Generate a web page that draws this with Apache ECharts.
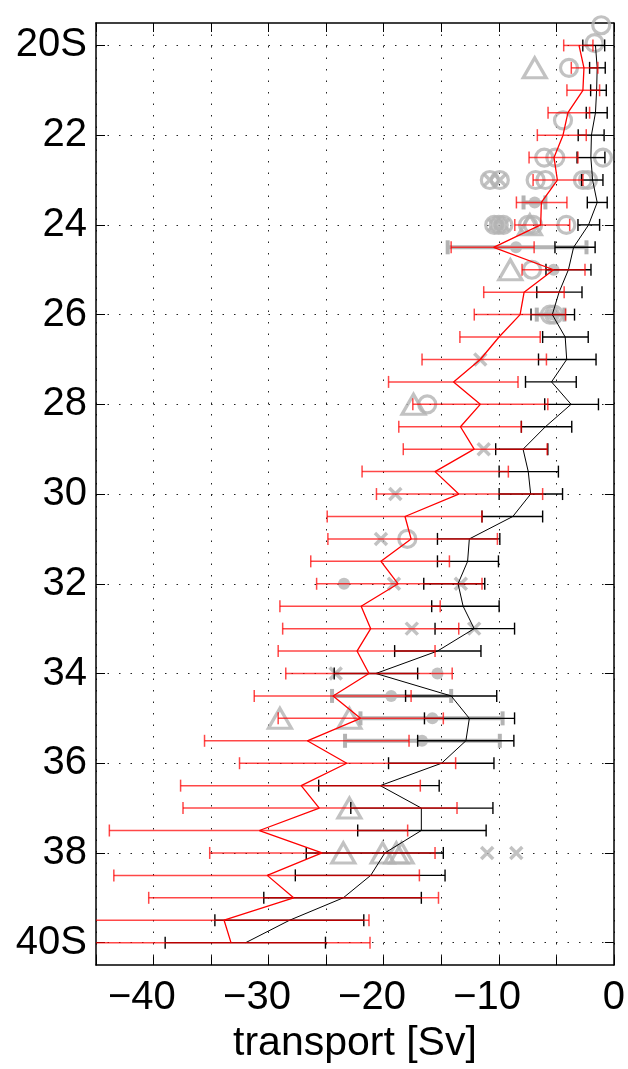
<!DOCTYPE html>
<html>
<head>
<meta charset="utf-8">
<script src="https://cdn.jsdelivr.net/npm/echarts@6/dist/echarts.min.js"></script>
<style>
html,body{margin:0;padding:0;background:#fff;}
#chart{width:628px;height:1069px;}
</style>
</head>
<body>
<div id="chart"></div>
<script>
// ---------- data ----------
const latitudes = [20,20.5,21,21.5,22,22.5,23,23.5,24,24.5,25,25.5,26,26.5,27,27.5,28,28.5,29,29.5,30,30.5,31,31.5,32,32.5,33,33.5,34,34.5,35,35.5,36,36.5,37,37.5,38,38.5,39,39.5,40];

const blackMean = [-1.6,-1.45,-1.5,-1.6,-1.95,-2.0,-1.85,-1.45,-2.2,-3.5,-3.95,-4.76,-5.35,-4.23,-4.1,-5.42,-3.72,-5.95,-7.89,-7.44,-7.23,-8.78,-12.56,-12.71,-13.54,-13.1,-12.14,-15.33,-20.68,-14.14,-12.56,-12.86,-14.97,-20.3,-16.73,-16.73,-19.9,-21.13,-23.51,-28.18,-31.99];
const blackLow  = [-2.7,-2.11,-2.02,-2.4,-3.1,-3.2,-2.8,-2.31,-3.12,-5.12,-5.9,-6.7,-7.2,-6.19,-6.55,-7.68,-6.01,-8.04,-10.27,-9.97,-9.97,-11.46,-15.33,-15.33,-16.52,-15.83,-15.54,-19.05,-24.3,-18.1,-16.46,-17.05,-19.58,-25.65,-22.86,-22.26,-26.73,-27.68,-30.42,-34.67,-38.99];
const blackHigh = [-0.8,-0.75,-0.66,-0.58,-0.85,-0.78,-0.95,-0.58,-1.24,-1.63,-1.99,-2.77,-3.42,-2.23,-1.55,-3.27,-1.34,-3.66,-5.74,-4.82,-4.46,-6.19,-9.91,-10.03,-11.22,-9.97,-8.63,-11.55,-17.05,-10.18,-8.63,-8.69,-10.42,-15.18,-10.51,-11.1,-14.82,-14.67,-16.73,-21.73,-25.06];

const redMean = [-3.03,-2.6,-2.69,-3.99,-4.42,-5.2,-4.91,-6.3,-6.36,-10.45,-5.24,-7.8,-8.15,-9.98,-11.61,-13.93,-11.61,-13.33,-12.14,-15.54,-13.48,-18.15,-17.62,-20.24,-18.75,-21.96,-21.13,-22.32,-21.28,-24.4,-22.02,-26.64,-23.21,-27.17,-25.6,-30.8,-25.36,-30.12,-27.83,-33.87,-33.27];
const redLow  = [-4.36,-3.7,-4.08,-5.72,-6.65,-7.37,-7.02,-8.47,-8.61,-14.14,-7.98,-11.31,-12.13,-13.38,-16.67,-19.58,-17.47,-18.69,-18.3,-21.88,-20.63,-24.91,-24.85,-26.34,-25.83,-29.02,-28.78,-29.17,-28.51,-31.25,-29.17,-35.57,-32.53,-37.65,-37.44,-43.84,-35.12,-43.45,-40.42,-46.5,-45.35];
const redHigh = [-1.82,-1.39,-1.24,-2.11,-2.4,-3.12,-2.69,-4.08,-3.84,-6.93,-2.51,-4.32,-4.2,-6.4,-5.86,-8.33,-5.74,-8.04,-5.8,-9.17,-6.19,-11.46,-10.12,-14.29,-11.46,-15.09,-13.48,-15.54,-14.05,-17.62,-14.82,-17.8,-13.75,-16.82,-13.63,-17.92,-15.54,-16.9,-15.24,-21.28,-21.19];

// grey observational estimates: [transport, latitude]
const obsCircles = [[-1.1,19.55],[-1.68,19.95],[-3.9,20.5],[-4.42,21.67],[-6.05,22.5],[-5.09,22.5],[-0.95,22.5],[-6.8,23],[-5.95,23],[-2.69,23],[-2.25,23],[-10.78,23],[-9.91,23],[-10.4,24],[-10.0,24],[-9.6,24],[-7.46,24],[-7.02,24],[-4.13,24],[-7.12,25],[-5.55,26],[-5.2,26],[-16.22,28],[-17.95,31]];
const obsCrosses = [[-10.78,23],[-9.91,23],[-10.4,24],[-10.0,24],[-9.6,24],[-11.61,27],[-11.31,29],[-18.99,30],[-20.24,31],[-19.11,32],[-13.3,32],[-17.56,33],[-12.14,33],[-24.17,34],[-11.01,38],[-8.48,38]];
const obsDots = [[-6.88,23.5],[-8.5,24.5],[-5.24,25],[-5.35,26],[-23.45,32],[-15.33,34],[-19.35,34.5],[-15.77,35],[-16.67,35.5]];
const obsTriangles = [[-6.88,20.5],[-7.3,24],[-9.0,25],[-17.41,28],[-29.02,35],[-22.98,35],[-22.98,37],[-23.51,38],[-20.09,38],[-18.9,38],[-18.45,38]];
// grey error bars: [low, high, latitude]
const obsBars = [[-7.85,-5.95,23.5],[-14.44,-2.38,24.5],[-6.7,-4.3,26],[-24.49,-14.14,34.5],[-22.02,-9.67,35],[-23.36,-9.91,35.5]];

const latTickValues = [20,22,24,26,28,30,32,34,36,38,40];
const xTickLabels = {'-40':'−40','-30':'−30','-20':'−20','-10':'−10','0':'0'};

// ---------- chart ----------
const GREY = '#b3b3b3';
const FONT = 'Liberation Sans, Arial, Helvetica, sans-serif';

function errorBarItem(color, width, cap) {
  return function (params, api) {
    const lat = api.value(2);
    const a = api.coord([api.value(0), lat]);
    const b = api.coord([api.value(1), lat]);
    const h = cap / 2;
    const st = { stroke: color, lineWidth: width };
    return {
      type: 'group',
      children: [
        { type: 'line', shape: { x1: a[0], y1: a[1], x2: b[0], y2: b[1] }, style: st },
        { type: 'line', shape: { x1: a[0], y1: a[1] - h, x2: a[0], y2: a[1] + h }, style: st },
        { type: 'line', shape: { x1: b[0], y1: b[1] - h, x2: b[0], y2: b[1] + h }, style: st }
      ]
    };
  };
}

const pairs = (xs) => latitudes.map((l, i) => [xs[i], l]);
const bars = (lo, hi) => latitudes.map((l, i) => [lo[i], hi[i], l]);

const axisLineStyle = { color: '#000', width: 1.5 };
const dotted = { color: '#222', width: 1, type: [1.5, 10] };

const chart = echarts.init(document.getElementById('chart'), null, { renderer: 'canvas' });
chart.setOption({
  animation: false,
  backgroundColor: '#fff',
  grid: { left: 96, right: 11, top: 23, bottom: 98, containLabel: false },
  xAxis: [
    {
      type: 'value', min: -45, max: 0, interval: 5, position: 'bottom',
      axisLine: { show: true, onZero: false, lineStyle: axisLineStyle },
      axisTick: { show: true, inside: true, length: 9, lineStyle: { color: '#000', width: 1 } },
      splitLine: { show: true, lineStyle: dotted },
      axisLabel: {
        show: true, margin: 13, color: '#000', fontFamily: FONT, fontSize: 40,
        showMinLabel: true, showMaxLabel: true,
        formatter: function (v) {
          const t = xTickLabels[String(v)];
          if (t === undefined) return '';
          return v < 0 ? t + '{s|−}' : t;
        },
        rich: { s: { color: 'rgba(0,0,0,0)', fontFamily: FONT, fontSize: 40 } }
      },
      name: 'transport [Sv]', nameLocation: 'middle', nameGap: 52,
      nameTextStyle: { color: '#000', fontFamily: FONT, fontSize: 41 }
    },
    {
      type: 'value', min: -45, max: 0, interval: 5, position: 'top',
      axisLine: { show: true, onZero: false, lineStyle: axisLineStyle },
      axisTick: { show: true, inside: true, length: 9, lineStyle: { color: '#000', width: 1 } },
      splitLine: { show: false }, axisLabel: { show: false }
    }
  ],
  yAxis: [
    {
      type: 'value', min: 19.5, max: 40.5, inverse: true, position: 'left',
      axisLine: { show: true, onZero: false, lineStyle: axisLineStyle },
      axisTick: { show: true, inside: true, length: 9, customValues: latTickValues, lineStyle: { color: '#000', width: 1 } },
      splitLine: { show: true, lineStyle: dotted },
      axisLabel: {
        show: true, margin: 9, color: '#000', fontFamily: FONT, fontSize: 40,
        customValues: latTickValues,
        formatter: (v) => (v === 20 || v === 40) ? v + 'S' : String(v)
      }
    },
    {
      type: 'value', min: 19.5, max: 40.5, inverse: true, position: 'right',
      axisLine: { show: true, onZero: false, lineStyle: axisLineStyle },
      axisTick: { show: true, inside: true, length: 9, customValues: latTickValues, lineStyle: { color: '#000', width: 1 } },
      splitLine: { show: false }, axisLabel: { show: false }
    }
  ],
  series: [
    {
      type: 'custom', name: 'obs bars', xAxisIndex: 0, yAxisIndex: 0, z: 1,
      renderItem: errorBarItem(GREY, 4, 14), encode: { x: [0, 1], y: 2 },
      data: obsBars, clip: true
    },
    {
      type: 'scatter', name: 'obs circles', z: 1, clip: false, symbol: 'circle', symbolSize: 17,
      itemStyle: { color: 'rgba(0,0,0,0)', borderColor: GREY, borderWidth: 3.2 },
      data: obsCircles
    },
    {
      type: 'scatter', name: 'obs crosses', z: 1, clip: false,
      symbol: 'path://M0,0L10,10M10,0L0,10', symbolSize: 12,
      itemStyle: { color: 'rgba(0,0,0,0)', borderColor: GREY, borderWidth: 3.5 },
      data: obsCrosses
    },
    {
      type: 'scatter', name: 'obs dots', z: 1, clip: false, symbol: 'circle', symbolSize: 12,
      itemStyle: { color: GREY },
      data: obsDots
    },
    {
      type: 'scatter', name: 'obs triangles', z: 1, clip: false, symbol: 'triangle', symbolSize: [23, 20],
      itemStyle: { color: 'rgba(0,0,0,0)', borderColor: GREY, borderWidth: 3.2 },
      data: obsTriangles
    },
    {
      type: 'custom', name: 'model A bars', z: 2,
      renderItem: errorBarItem('#000', 1.4, 12), encode: { x: [0, 1], y: 2 },
      data: bars(blackLow, blackHigh), clip: true
    },
    {
      type: 'line', name: 'model A', z: 3, showSymbol: false, symbol: 'none',
      lineStyle: { color: '#000', width: 1 }, data: pairs(blackMean)
    },
    {
      type: 'custom', name: 'model B bars', z: 4,
      renderItem: errorBarItem('rgba(255,0,0,0.72)', 1.5, 12), encode: { x: [0, 1], y: 2 },
      data: bars(redLow, redHigh), clip: true
    },
    {
      type: 'line', name: 'model B', z: 5, showSymbol: false, symbol: 'none',
      lineStyle: { color: '#ff0000', width: 1.3 }, data: pairs(redMean)
    }
  ]
});
</script>
</body>
</html>
